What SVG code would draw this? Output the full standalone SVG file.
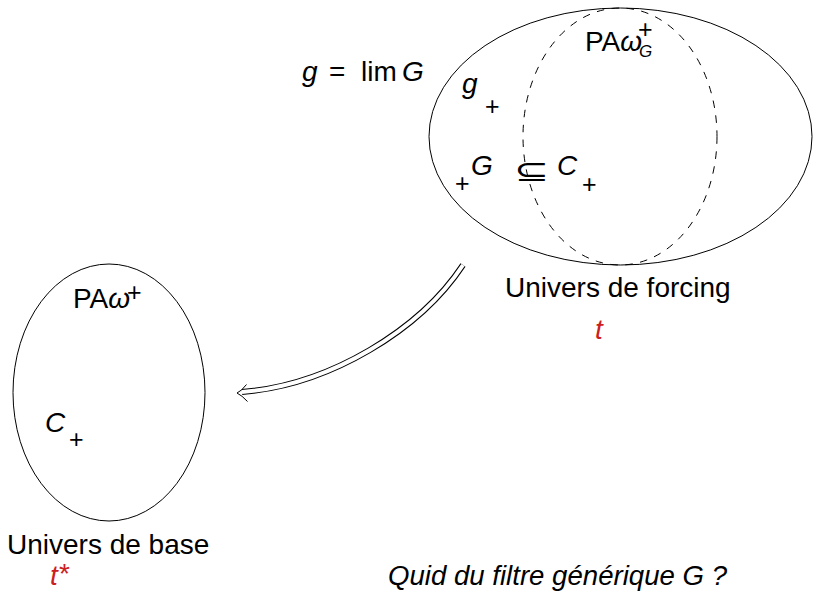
<svg xmlns="http://www.w3.org/2000/svg" width="813" height="594" viewBox="0 0 813 594">
<style>
.t{font-family:"Liberation Sans",Arial,sans-serif;font-size:28px;fill:#000}
.m{font-family:"Liberation Sans",Arial,sans-serif;font-size:28px;font-style:italic;fill:#000}
.p{font-family:"Liberation Sans",Arial,sans-serif;font-size:25px;fill:#000}
.si{font-family:"Liberation Sans",Arial,sans-serif;font-size:17px;font-style:italic;fill:#000}
.red{fill:#cc2020}
.e{fill:none;stroke:#000;stroke-width:1}
.d{fill:none;stroke:#000;stroke-width:1;stroke-dasharray:7.5 7.5}
</style>
<g id="forcing">
<ellipse class="e" cx="620.5" cy="136.5" rx="191.5" ry="128.5"/>
<ellipse class="d" cx="620" cy="136.5" rx="97" ry="128.5"/>
<text class="t" x="585" y="51" font-size="25">PA<tspan font-style="italic">ω</tspan></text>
<text class="p" x="638" y="38" font-size="21">+</text>
<text class="si" x="639" y="57">G</text>
<text class="m" x="462" y="93">g</text>
<text class="p" x="485" y="115">+</text>
<text class="p" x="455" y="192">+</text>
<text class="m" x="471" y="175">G</text>
<text x="0" y="0" transform="translate(514,181) scale(1.45,1)" style="font-family:'DejaVu Sans',sans-serif;font-size:29px">⊆</text>
<text class="m" x="557" y="175">C</text>
<text class="p" x="582" y="193">+</text>
<text class="t" x="505" y="297" font-size="29">Univers de forcing</text>
<text class="m red" x="595" y="339">t</text>
</g>
<g id="limit-label">
<text class="m" x="302" y="81">g</text>
<text class="t" x="329" y="81">=</text>
<text class="t" x="361" y="81">lim</text>
<text class="m" x="402" y="81">G</text>
</g>
<g id="base">
<ellipse class="e" cx="109" cy="392.5" rx="96" ry="128.5"/>
<text class="t" x="73" y="308" font-size="25">PA<tspan font-style="italic">ω</tspan></text>
<text class="p" x="127" y="301" font-size="21">+</text>
<text class="m" x="45" y="432">C</text>
<text class="p" x="69" y="448">+</text>
<text class="t" x="7" y="554">Univers de base</text>
<text class="m red" x="50" y="585">t</text>
<text class="t red" x="59" y="583" font-size="22">*</text>
</g>
<g id="question">
<text class="m" x="388" y="585" textLength="339" lengthAdjust="spacingAndGlyphs">Quid du filtre générique G ?</text>
</g>
<g id="connectors">
<path d="M463,265 C420,330 330,385 242,392" fill="none" stroke="#000" stroke-width="6"/>
<path d="M463,265 C420,330 330,385 242,392" fill="none" stroke="#fff" stroke-width="4"/>
<path d="M246.5,384.5 Q241.5,391 237,393 Q242,395.5 247.5,401.5" fill="none" stroke="#000" stroke-width="1"/>
</g>
</svg>
